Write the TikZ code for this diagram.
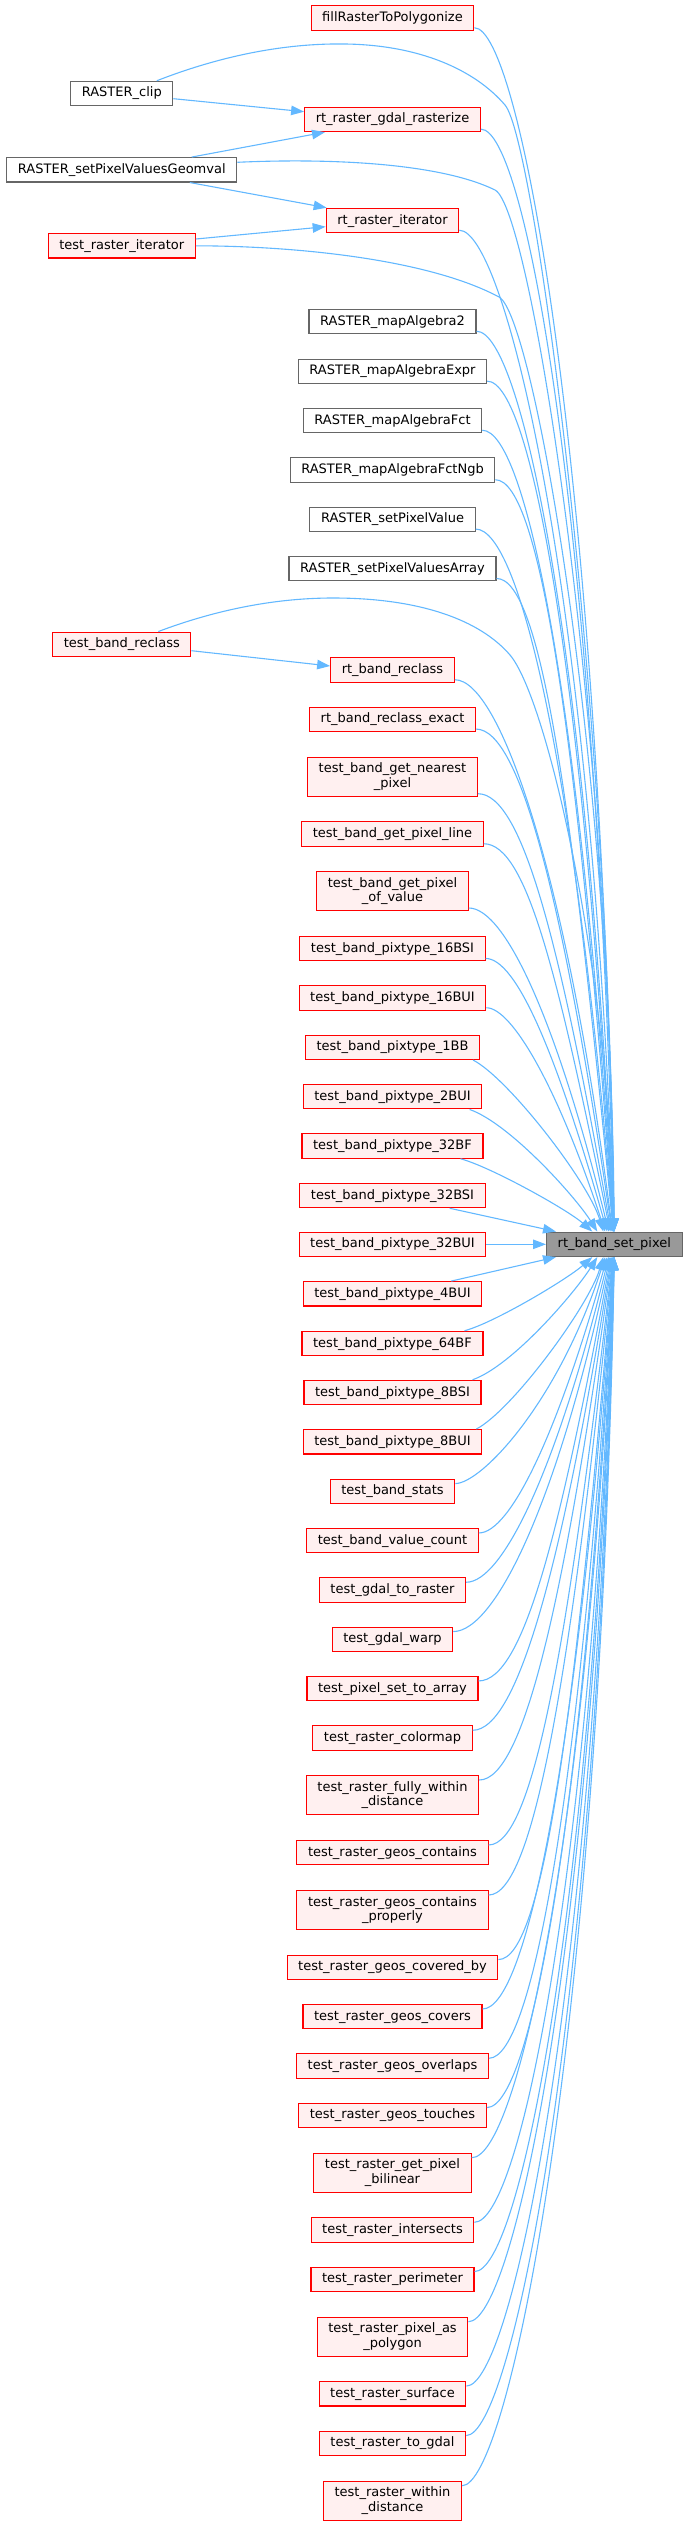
\documentclass[tikz,border=0pt]{standalone}
\usepackage{fontspec}
\newfontfamily\dvs{DejaVu Sans}
\usetikzlibrary{arrows.meta,calc}
\definecolor{ecol}{HTML}{63B8FF}
\definecolor{rborder}{HTML}{FF0000}
\definecolor{rfill}{HTML}{FFF0F0}
\definecolor{gborder}{HTML}{666666}
\definecolor{tfill}{HTML}{999999}
\newcommand\nodefnt{\dvs\fontsize{13pt}{14.5pt}\selectfont}
\tikzset{
  box/.style={draw, rectangle, font=\nodefnt, inner xsep=11.1pt, inner ysep=0pt, line width=1.1pt, text=black},
  one/.style={minimum height=24.4pt, text height=10pt, text depth=3pt},
  two/.style={minimum height=38.9pt, align=center},
  rbox/.style={box, draw=rborder, fill=rfill},
  gbox/.style={box, draw=gborder, fill=white},
  tbox/.style={box, draw=gborder, fill=tfill},
  conn/.style={draw=ecol, line width=1.1pt, -{Triangle[length=13pt,width=9.5pt]}},
}
\newcommand\upedge[1]{%
  \draw[conn] let \p1=([yshift=3pt]#1.south east), \p2=(t.north),
    \n1={\y1-\y2}, \n2={-22*exp(-(\n1-50)/200)},
    \n3={0.65*0.35*\n1*exp(-(\n1-200)/350)}, \n4={45*min(1,\n1/400)} in
    (\p1) .. controls +(\n4,0pt) and +({-\n3},{0.65*\n1}) .. ([xshift=\n2]\p2);}
\newcommand\downedge[1]{%
  \draw[conn] let \p1=([yshift=-5pt]#1.north east), \p2=(t.south),
    \n1={\y2-\y1}, \n2={-22*exp(-(\n1-50)/200)},
    \n3={0.65*0.35*\n1*exp(-(\n1-200)/350)}, \n4={45*min(1,\n1/400)} in
    (\p1) .. controls +(\n4,0pt) and +({-\n3},{-0.65*\n1}) .. ([xshift=\n2]\p2);}
\begin{document}
\begin{tikzpicture}[x=1pt,y=-1pt]
\useasboundingbox (0,0) rectangle (688,2526);
% target
\node[tbox,one] (t) at (614.3,1244.3) {rt\_band\_set\_pixel};
% left column
\node[gbox,one] (clip) at (121.8,93.5) {RASTER\_clip};
\node[gbox,one] (geom) at (121.8,169.8) {RASTER\_setPixelValuesGeomval};
\node[rbox,one] (tri) at (121.8,245.8) {test\_raster\_iterator};
\node[rbox,one] (tbr) at (121.8,644.3) {test\_band\_reclass};
% middle column
\node[rbox,one] (fill) at (392.5,18) {fillRasterToPolygonize};
\node[rbox,one] (ras) at (392.5,119.4) {rt\_raster\_gdal\_rasterize};
\node[rbox,one] (it) at (392.5,220.5) {rt\_raster\_iterator};
\node[gbox,one] (ma2) at (392.5,321.5) {RASTER\_mapAlgebra2};
\node[gbox,one] (mae) at (392.5,371.4) {RASTER\_mapAlgebraExpr};
\node[gbox,one] (maf) at (392.5,420.5) {RASTER\_mapAlgebraFct};
\node[gbox,one] (mafn) at (392.5,470) {RASTER\_mapAlgebraFctNgb};
\node[gbox,one] (spv) at (392.5,519.3) {RASTER\_setPixelValue};
\node[gbox,one] (spva) at (392.5,568.7) {RASTER\_setPixelValuesArray};
\node[rbox,one] (rbr) at (392.5,670) {rt\_band\_reclass};
\node[rbox,one] (rbre) at (392.5,719.3) {rt\_band\_reclass\_exact};
\node[rbox,two] (nearest) at (392.5,776.7) {test\_band\_get\_nearest\\\_pixel};
\node[rbox,one] (pline) at (392.5,834) {test\_band\_get\_pixel\_line};
\node[rbox,two] (pval) at (392.5,891) {test\_band\_get\_pixel\\\_of\_value};
\node[rbox,one] (p16s) at (392.5,948.7) {test\_band\_pixtype\_16BSI};
\node[rbox,one] (p16u) at (392.5,998) {test\_band\_pixtype\_16BUI};
\node[rbox,one] (p1bb) at (392.5,1047.3) {test\_band\_pixtype\_1BB};
\node[rbox,one] (p2bu) at (392.5,1096.7) {test\_band\_pixtype\_2BUI};
\node[rbox,one] (p32f) at (392.5,1146) {test\_band\_pixtype\_32BF};
\node[rbox,one] (p32s) at (392.5,1195.5) {test\_band\_pixtype\_32BSI};
\node[rbox,one] (p32u) at (392.5,1244.3) {test\_band\_pixtype\_32BUI};
\node[rbox,one] (p4bu) at (392.5,1293.8) {test\_band\_pixtype\_4BUI};
\node[rbox,one] (p64f) at (392.5,1343.5) {test\_band\_pixtype\_64BF};
\node[rbox,one] (p8bs) at (392.5,1392.5) {test\_band\_pixtype\_8BSI};
\node[rbox,one] (p8bu) at (392.5,1441.8) {test\_band\_pixtype\_8BUI};
\node[rbox,one] (bstats) at (392.5,1491.3) {test\_band\_stats};
\node[rbox,one] (bvc) at (392.5,1540.7) {test\_band\_value\_count};
\node[rbox,one] (gtr) at (392.5,1590) {test\_gdal\_to\_raster};
\node[rbox,one] (gwarp) at (392.5,1639.3) {test\_gdal\_warp};
\node[rbox,one] (psta) at (392.5,1688.7) {test\_pixel\_set\_to\_array};
\node[rbox,one] (rcm) at (392.5,1738) {test\_raster\_colormap};
\node[rbox,two] (rfwd) at (392.5,1795) {test\_raster\_fully\_within\\\_distance};
\node[rbox,one] (gcont) at (392.5,1852.7) {test\_raster\_geos\_contains};
\node[rbox,two] (gcp) at (392.5,1910) {test\_raster\_geos\_contains\\\_properly};
\node[rbox,one] (gcb) at (392.5,1967.3) {test\_raster\_geos\_covered\_by};
\node[rbox,one] (gcov) at (392.5,2016.7) {test\_raster\_geos\_covers};
\node[rbox,one] (gover) at (392.5,2066) {test\_raster\_geos\_overlaps};
\node[rbox,one] (gtouch) at (392.5,2115.3) {test\_raster\_geos\_touches};
\node[rbox,two] (gpb) at (392.5,2172.7) {test\_raster\_get\_pixel\\\_bilinear};
\node[rbox,one] (rint) at (392.5,2230) {test\_raster\_intersects};
\node[rbox,one] (rper) at (392.5,2279.3) {test\_raster\_perimeter};
\node[rbox,two] (rpap) at (392.5,2336.7) {test\_raster\_pixel\_as\\\_polygon};
\node[rbox,one] (rsurf) at (392.5,2393.8) {test\_raster\_surface};
\node[rbox,one] (rtog) at (392.5,2443.3) {test\_raster\_to\_gdal};
\node[rbox,two] (rwd) at (392.5,2500.7) {test\_raster\_within\\\_distance};
% left to middle
\draw[conn] ([yshift=-5.2pt]clip.east) -- ([yshift=7.7pt]ras.west);
\draw[conn] ([xshift=70pt]geom.north) -- ([xshift=-67.5pt]ras.south);
\draw[conn] ([xshift=68pt]geom.south) -- ([xshift=1pt]it.north west);
\draw[conn] ([yshift=6.8pt]tri.east) -- ([yshift=-6.2pt]it.west);
\draw[conn] ([yshift=-6.4pt]tbr.east) -- ([yshift=4pt]rbr.west);
% left to target
\draw[conn] ([xshift=35pt]clip.north) .. controls (215,58) and (280,43) .. (345,44)
  .. controls (420,45) and (475,70) .. (505,105)
  .. controls (535,140) and (609,700) .. ([xshift=-0.5pt]t.north);
\draw[conn] ([yshift=7.5pt]geom.east) .. controls (330,158) and (440,163) .. (495,190)
  .. controls (530,207) and (609,700) .. ([xshift=-0.5pt]t.north);
\draw[conn] (tri.east) .. controls (300,246) and (430,260) .. (499,297)
  .. controls (533,315) and (610,750) .. (t.north);
\draw[conn] ([xshift=36.5pt]tbr.north) .. controls (210,612) and (270,598) .. (333,598)
  .. controls (420,598) and (480,620) .. (510,655)
  .. controls (545,696) and (606,950) .. (t.north);
% middle to target
\foreach \nm in {fill,ras,it,ma2,mae,maf,mafn,spv,spva,rbr,rbre,nearest,pline,pval,p16s,p16u}{\upedge{\nm}}
\foreach \nm in {bstats,bvc,gtr,gwarp,psta,rcm,rfwd,gcont,gcp,gcb,gcov,gover,gtouch,gpb,rint,rper,rpap,rsurf,rtog,rwd}{\downedge{\nm}}
\draw[conn] ([xshift=-7pt]p1bb.south east) .. controls +(35pt,-18pt) and +(-15pt,50pt) .. ([xshift=-11pt]t.north);
\draw[conn] ([xshift=-12.7pt]p2bu.south east) .. controls +(40pt,-14pt) and +(-22pt,35pt) .. ([xshift=-17pt]t.north);
\draw[conn] ([xshift=-23pt]p32f.south east) .. controls +(30pt,-8pt) and +(-25pt,22pt) .. ([xshift=-22pt]t.north);
\draw[conn] ([xshift=-36pt]p32s.south east) -- ([xshift=10pt]t.north west);
\draw[conn] (p32u.east) -- (t.west);
\draw[conn] ([xshift=-31pt]p4bu.north east) -- ([xshift=10pt]t.south west);
\draw[conn] ([xshift=-19pt]p64f.north east) .. controls +(30pt,8pt) and +(-25pt,-22pt) .. ([xshift=-22pt]t.south);
\draw[conn] ([xshift=-9pt]p8bs.north east) .. controls +(40pt,14pt) and +(-22pt,-35pt) .. ([xshift=-17pt]t.south);
\draw[conn] ([xshift=-6pt]p8bu.north east) .. controls +(35pt,18pt) and +(-15pt,-50pt) .. ([xshift=-11pt]t.south);
\end{tikzpicture}
\end{document}
